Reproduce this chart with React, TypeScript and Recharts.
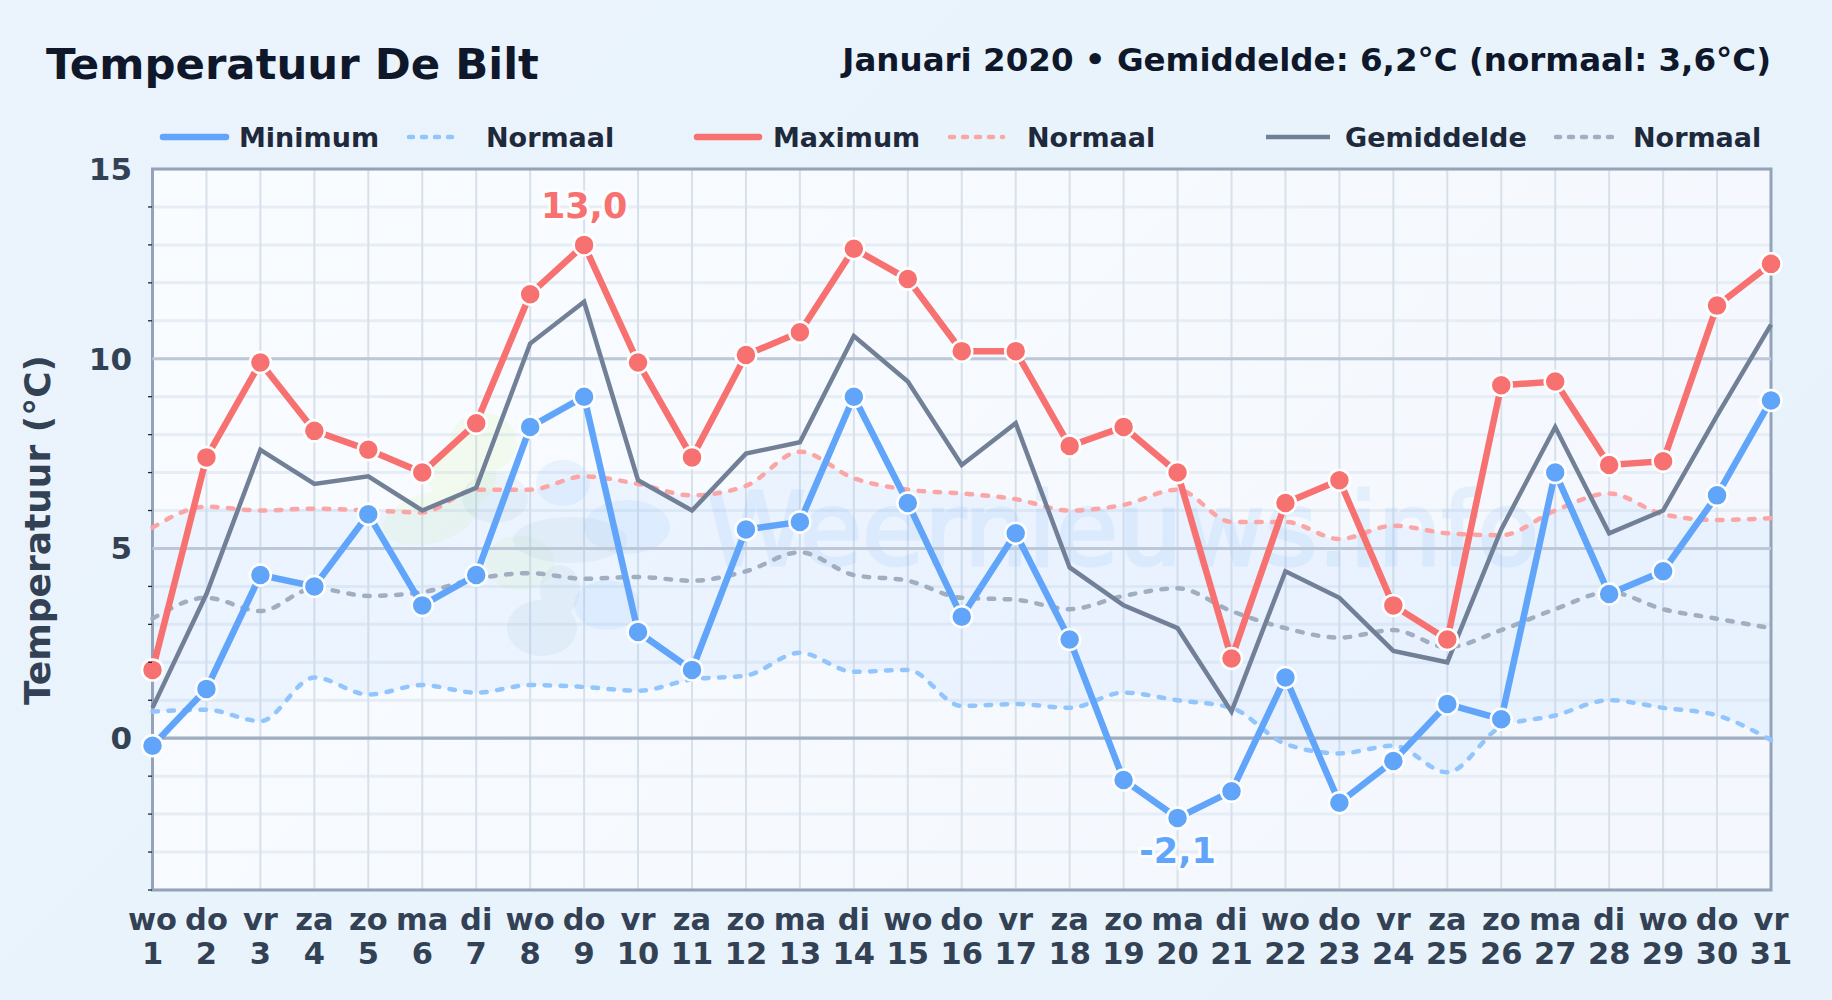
import {
  ComposedChart, Line, Area, XAxis, YAxis, CartesianGrid, ReferenceLine, ReferenceArea, Legend
} from "recharts"

const days = ["1","2","3","4","5","6","7","8","9","10","11","12","13","14","15","16","17","18","19","20","21","22","23","24","25","26","27","28","29","30","31"]
const weekdays = ["wo","do","vr","za","zo","ma","di","wo","do","vr","za","zo","ma","di","wo","do","vr","za","zo","ma","di","wo","do","vr","za","zo","ma","di","wo","do","vr"]

const minimum = [-0.2,1.3,4.3,4.0,5.9,3.5,4.3,8.2,9.0,2.8,1.8,5.5,5.7,9.0,6.2,3.2,5.4,2.6,-1.1,-2.1,-1.4,1.6,-1.7,-0.6,0.9,0.5,7.0,3.8,4.4,6.4,8.9]
const maximum = [1.8,7.4,9.9,8.1,7.6,7.0,8.3,11.7,13.0,9.9,7.4,10.1,10.7,12.9,12.1,10.2,10.2,7.7,8.2,7.0,2.1,6.2,6.8,3.5,2.6,9.3,9.4,7.2,7.3,11.4,12.5]
const gemiddelde = [0.8,3.8,7.6,6.7,6.9,6.0,6.6,10.4,11.5,6.8,6.0,7.5,7.8,10.6,9.4,7.2,8.3,4.5,3.5,2.9,0.7,4.4,3.7,2.3,2.0,5.5,8.2,5.4,6.0,8.5,10.9]
const normaalMin = [0.7,0.75,0.45,1.6,1.15,1.4,1.2,1.4,1.35,1.25,1.55,1.65,2.25,1.75,1.8,0.85,0.9,0.8,1.2,1.0,0.8,-0.15,-0.4,-0.2,-0.9,0.3,0.6,1.0,0.8,0.6,-0.05]
const normaalMax = [5.55,6.1,6.0,6.05,6.0,5.95,6.55,6.55,6.9,6.7,6.4,6.65,7.55,6.85,6.55,6.45,6.3,6.0,6.15,6.55,5.7,5.7,5.25,5.6,5.4,5.35,6.0,6.45,5.9,5.75,5.8]
const normaalGem = [3.15,3.7,3.35,3.95,3.75,3.85,4.2,4.35,4.2,4.25,4.15,4.4,4.9,4.3,4.15,3.7,3.65,3.4,3.75,3.95,3.35,2.9,2.65,2.85,2.4,2.85,3.4,3.85,3.4,3.15,2.9]

const yTicks = [-4,-3,-2,-1,0,1,2,3,4,5,6,7,8,9,10,11,12,13,14,15]

const table = days.map((day, i) => ({
  day,
  weekday: weekdays[i],
  minimum: minimum[i],
  maximum: maximum[i],
  gemiddelde: gemiddelde[i],
  normaalMin: normaalMin[i],
  normaalMax: normaalMax[i],
  normaalGem: normaalGem[i],
  band: [normaalMin[i], normaalMax[i]],
}))

const BLUE = "#60a5fa"
const RED = "#f87171"
const GREY = "#718096"
const FONT = "'DejaVu Sans', sans-serif"
const DASH = "5.5 10.5"

const legendItems = [
  { name: "Minimum", color: BLUE, dashed: false, x: 160, w: 69, tx: 239 },
  { name: "Normaal", color: "#93c5fd", dashed: true, x: 406, w: 58, tx: 486 },
  { name: "Maximum", color: RED, dashed: false, x: 694, w: 68, tx: 773 },
  { name: "Normaal", color: "#fca5a5", dashed: true, x: 947, w: 59, tx: 1027 },
  { name: "Gemiddelde", color: GREY, dashed: false, x: 1263, w: 70, tx: 1345 },
  { name: "Normaal", color: "#a0aec0", dashed: true, x: 1553, w: 65, tx: 1633 },
]

const ChartLegend = () => (
  <svg width={1832} height={170} style={{ position: "absolute", left: 0, top: 0, display: "block" }}>
    {legendItems.map((it, i) => (
      <g key={i}>
        <line x1={it.x + 3} x2={it.x + it.w - 3} y1={137} y2={137} stroke={it.color}
          strokeWidth={it.dashed ? 4.5 : it.name === "Gemiddelde" ? 4.5 : 6.5}
          strokeLinecap={it.name === "Gemiddelde" ? "butt" : "round"}
          strokeDasharray={it.dashed ? "4 9" : undefined} />
        <text x={it.tx} y={146.5} fontFamily={FONT} fontWeight={700} fontSize={27} fill="#1e293b">{it.name}</text>
      </g>
    ))}
  </svg>
)

const YTick = ({ y, payload }: any) => {
  if (payload.value % 5 !== 0) {
    return <line x1={148} x2={152} y1={y} y2={y} stroke="#1e293b" strokeWidth={1.3} />
  }
  return (
    <text x={132} y={y + 11} textAnchor="end" fontFamily={FONT} fontWeight={700} fontSize={31} fill="#334155">
      {payload.value}
    </text>
  )
}

const XTick = ({ x, payload, index }: any) => (
  <text textAnchor="middle" fontFamily={FONT} fontWeight={700} fontSize={30.5} fill="#334155">
    <tspan x={x} y={930}>{weekdays[index]}</tspan>
    <tspan x={x} y={964}>{payload.value}</tspan>
  </text>
)

const peakLabel = (peak: string, color: string, dy: number, data: number[], wanted: number) => (props: any) => {
  if (data[props.index] !== wanted) return null
  return (
    <text x={props.x} y={props.y + dy} textAnchor="middle" fontFamily={FONT} fontWeight={700} fontSize={35}
      fill={color} stroke="#ffffff" strokeWidth={6} strokeOpacity={0.8} strokeLinejoin="round" paintOrder="stroke">
      {peak}
    </text>
  )
}

// weernieuws.info logo behind the lines, very faint
const Watermark = () => (
  <g>
    <g fill="#bef264" opacity={0.09}>
      <ellipse cx={483} cy={443} rx={34} ry={30} />
      <ellipse cx={430} cy={518} rx={48} ry={25} transform="rotate(-15 430 518)" />
      <ellipse cx={462} cy={478} rx={34} ry={28} />
      <ellipse cx={520} cy={563} rx={35} ry={27} />
    </g>
    <g fill="#60a5fa" opacity={0.09}>
      <ellipse cx={563} cy={483} rx={27} ry={23} />
      <ellipse cx={627} cy={527} rx={43} ry={27} />
      <ellipse cx={607} cy={605} rx={33} ry={25} />
    </g>
    <g fill="#3b82a6" opacity={0.06}>
      <ellipse cx={495} cy={498} rx={33} ry={25} />
      <ellipse cx={570} cy={540} rx={57} ry={23} />
      <ellipse cx={542} cy={628} rx={35} ry={28} />
      <ellipse cx={560} cy={590} rx={20} ry={25} />
    </g>
    <g opacity={0.11}>
      <text x={706} y={565} fontFamily={FONT} fontSize={101} fill="#60a5fa" stroke="#60a5fa" strokeWidth={3}>Weernieuws.info</text>
    </g>
  </g>
)

export default function App() {
  return (
    <div style={{ position: "absolute", left: 0, top: 0, width: 1832, height: 1000, overflow: "hidden", background: "linear-gradient(135deg, #ebf4fd, #e7f2fb)" }}>
      <div style={{ position: "absolute", left: 46, top: 37, fontFamily: FONT, fontWeight: 700, fontSize: 43.4, lineHeight: "54px", color: "#0f172a", whiteSpace: "nowrap" }}>
        Temperatuur De Bilt
      </div>
      <div style={{ position: "absolute", right: 61, top: 40, fontFamily: FONT, fontWeight: 700, fontSize: 32.5, lineHeight: "40px", color: "#0f172a", whiteSpace: "nowrap" }}>
        Januari 2020 • Gemiddelde: 6,2°C (normaal: 3,6°C)
      </div>
      <ComposedChart width={1832} height={1000} data={table} margin={{ top: 169, right: 61, bottom: 50, left: 52.5 }}
        style={{ position: "absolute", left: 0, top: 0 }}>
        <defs>
          <linearGradient id="plotBg" x1="0" y1="0" x2="1" y2="0.4">
            <stop offset="0" stopColor="#f9fcff" />
            <stop offset="1" stopColor="#f4f8fe" />
          </linearGradient>
        </defs>
        <CartesianGrid vertical={false} stroke="#e6edf5" strokeWidth={3} fill="url(#plotBg)" />
        <Area dataKey="band" type="monotone" stroke="none" fill="#93c5fd" fillOpacity={0.12} isAnimationActive={false} legendType="none" />
        <Watermark />
        <CartesianGrid horizontal={false} stroke="#d8e0ea" strokeWidth={2} />
        <XAxis dataKey="day" scale="point" padding={{ left: 0, right: 0 }} interval={0} height={60}
          axisLine={false} tickLine={false} tick={<XTick />} />
        <YAxis type="number" domain={[-4, 15]} ticks={yTicks} interval={0} width={100}
          axisLine={false} tickLine={false} tick={<YTick />} />
        <text x={50} y={530} textAnchor="middle" transform="rotate(-90 50 530)" fontFamily={FONT} fontWeight={700}
          fontSize={36} fill="#334155">Temperatuur (°C)</text>
        <ReferenceLine y={5} stroke="#bcc8d8" strokeWidth={3} />
        <ReferenceLine y={10} stroke="#bcc8d8" strokeWidth={3} />
        <ReferenceLine y={0} stroke="#a0aec0" strokeWidth={3.3} />
        <ReferenceArea x1="1" x2="31" y1={-4} y2={15} fill="none" stroke="#94a3b8" strokeWidth={3} />
        <Line dataKey="normaalMin" type="monotone" stroke="#93c5fd" strokeWidth={4.5} strokeDasharray={DASH} strokeLinecap="round" dot={false} isAnimationActive={false} />
        <Line dataKey="normaalMax" type="monotone" stroke="#fca5a5" strokeWidth={4.5} strokeDasharray={DASH} strokeLinecap="round" dot={false} isAnimationActive={false} />
        <Line dataKey="normaalGem" type="monotone" stroke="#a0aec0" strokeWidth={4.5} strokeDasharray={DASH} strokeLinecap="round" dot={false} isAnimationActive={false} />
        <Line dataKey="gemiddelde" type="linear" stroke={GREY} strokeWidth={4.5} dot={false} isAnimationActive={false} />
        <Line dataKey="maximum" type="linear" stroke={RED} strokeWidth={6.5} isAnimationActive={false}
          dot={{ r: 10.5, fill: RED, stroke: "#fff", strokeWidth: 2.5, fillOpacity: 1 }}
          label={peakLabel("13,0", RED, -27, maximum, 13.0)} />
        <Line dataKey="minimum" type="linear" stroke={BLUE} strokeWidth={6.5} isAnimationActive={false}
          dot={{ r: 10.5, fill: BLUE, stroke: "#fff", strokeWidth: 2.5, fillOpacity: 1 }}
          label={peakLabel("-2,1", BLUE, 45, minimum, -2.1)} />
        <Legend content={ChartLegend} wrapperStyle={{ position: "absolute", left: 0, top: 0, width: 0, height: 0 }} />
      </ComposedChart>
    </div>
  )
}
